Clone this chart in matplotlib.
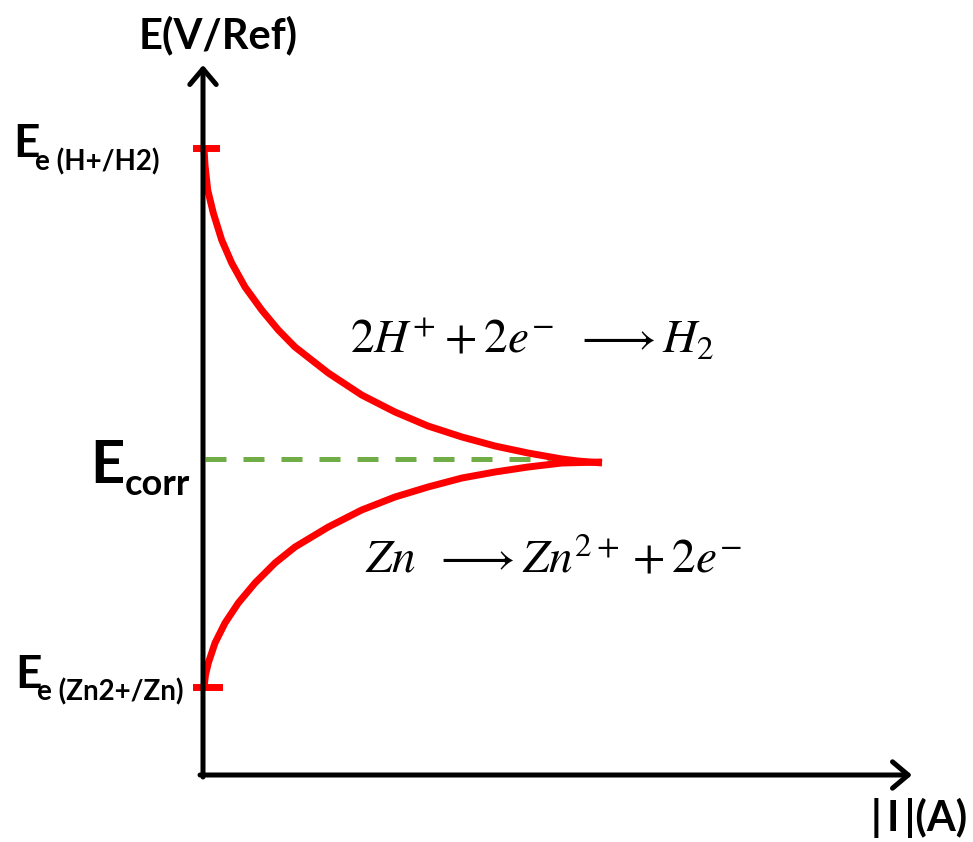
import matplotlib
matplotlib.use('Agg')
import matplotlib.pyplot as plt

# 腐蚀电位示意图 (Evans diagram): |I| 与 E 的关系, 单位任意
plt.rcParams['font.family'] = ['Lato', 'DejaVu Sans']
plt.rcParams['mathtext.fontset'] = 'stix'

# 阴极支 2H+ + 2e- -> H2
i_cath = [0.01, 0.02, 0.047, 0.103, 0.187, 0.287, 0.42, 0.587, 0.753, 0.92, 1.253,
          1.587, 1.92, 2.25, 2.59, 2.92, 3.25, 3.59, 3.75, 3.99]
e_cath = [6.27, 6.10, 5.85, 5.62, 5.35, 5.12, 4.88, 4.65, 4.45, 4.28, 4.02,
          3.80, 3.63, 3.49, 3.38, 3.29, 3.22, 3.16, 3.14, 3.12]

# 阳极支 Zn -> Zn2+ + 2e-
i_anod = [0.01, 0.025, 0.053, 0.12, 0.22, 0.353, 0.52, 0.72, 0.92, 1.253, 1.587,
          1.92, 2.25, 2.59, 2.92, 3.25, 3.59, 3.99]
e_anod = [0.88, 1.00, 1.12, 1.32, 1.52, 1.72, 1.92, 2.12, 2.28, 2.48, 2.65,
          2.78, 2.88, 2.97, 3.03, 3.08, 3.12, 3.13]

e_corr = 3.16
i_corr = 3.72
e_eq_h = 6.27
e_eq_zn = 0.88

fig = plt.figure(figsize=(9.73, 8.42), dpi=100)
ax = fig.add_axes([0, 0, 1, 1])
ax.set_xlim(-2.03, 7.70)
ax.set_ylim(-0.67, 7.75)
ax.axis('off')

# 坐标轴 (带箭头)
arrow = dict(arrowstyle='->,head_length=0.45,head_width=0.38', lw=3.6,
             color='black', shrinkA=0, shrinkB=0, mutation_scale=25)
ax.annotate('', xy=(0, 7.10), xytext=(0, -0.02), arrowprops=arrow)
ax.annotate('', xy=(7.09, 0), xytext=(-0.03, 0), arrowprops=arrow)

# Ecorr 虚线
ax.plot([0.02, i_corr], [e_corr, e_corr], color='#70ad47', lw=3.6,
        dashes=(4.2, 3.4))

# 两条极化曲线
ax.plot(i_cath, e_cath, color='#ff0000', lw=5.0, solid_capstyle='butt', solid_joinstyle='round')
ax.plot(i_anod, e_anod, color='#ff0000', lw=5.0, solid_capstyle='butt', solid_joinstyle='round')

# 平衡电位的小刻度
ax.plot([-0.07, 0.13], [e_eq_h, e_eq_h], color='#ff0000', lw=5.0)
ax.plot([-0.07, 0.16], [e_eq_zn, e_eq_zn], color='#ff0000', lw=5.0)

# 文字
ax.text(0.15, 7.40, 'E(V/Ref)', fontsize=30, fontweight='bold', ha='center', va='center')
ax.text(7.16, -0.43, '|\u2009I\u2009|(A)', fontsize=30, fontweight='bold', ha='center', va='center')

ax.text(-1.90, 6.18, 'E', fontsize=33, fontweight='bold', ha='left', va='baseline')
ax.text(-1.68, 6.05, 'e (H+/H2)', fontsize=20, fontweight='bold', ha='left', va='baseline')

ax.text(-1.13, 2.92, 'E', fontsize=43, fontweight='bold', ha='left', va='baseline')
ax.text(-0.78, 2.80, 'corr', fontsize=26, fontweight='bold', ha='left', va='baseline')

ax.text(-1.88, 0.87, 'E', fontsize=33, fontweight='bold', ha='left', va='baseline')
ax.text(-1.66, 0.75, 'e (Zn2+/Zn)', fontsize=20, fontweight='bold', ha='left', va='baseline')

ax.text(1.47, 4.22, r'$2H^{+} + 2e^{-}\;\;\longrightarrow H_{2}$', fontsize=34,
        ha='left', va='baseline')
ax.text(1.62, 2.02, r'$Zn\;\;\longrightarrow Zn^{2+} + 2e^{-}$', fontsize=34,
        ha='left', va='baseline')

fig.savefig('out.png', dpi=100)
